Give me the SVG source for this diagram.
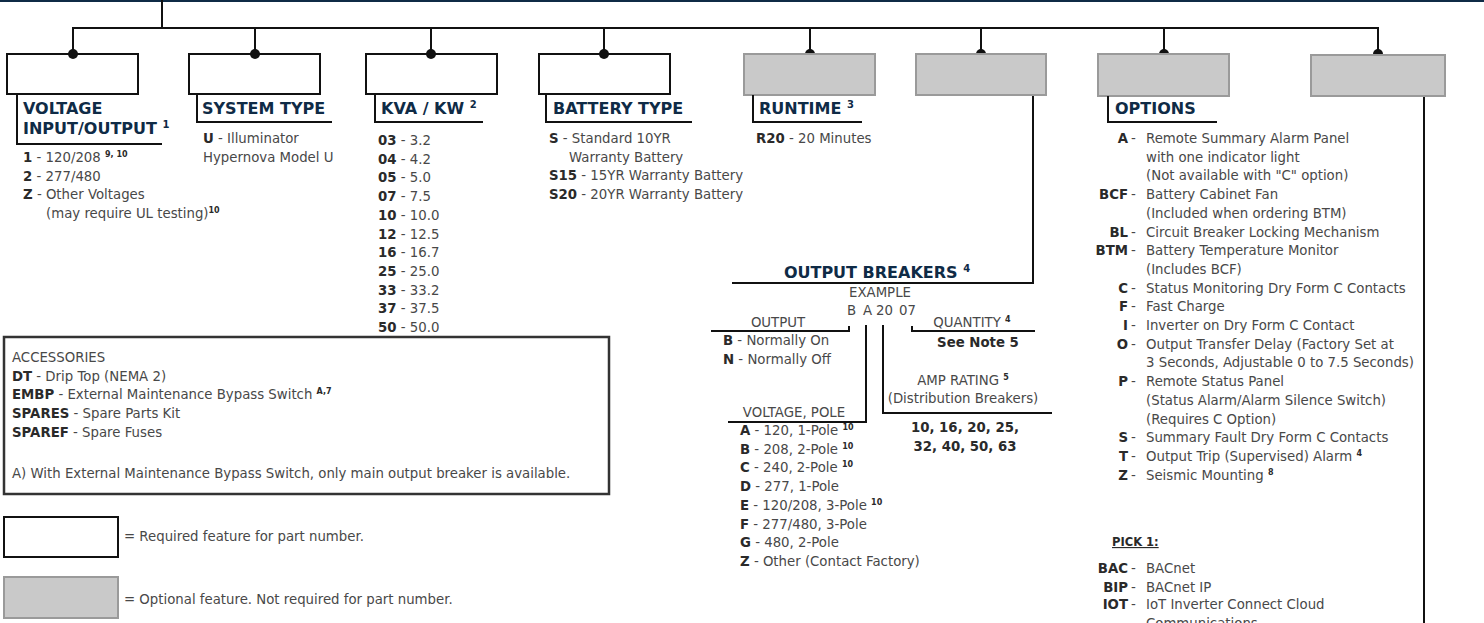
<svg xmlns="http://www.w3.org/2000/svg" width="1484" height="623" viewBox="0 0 1484 623">
<style>
.h{font-family:"DejaVu Sans",sans-serif;font-weight:bold;font-size:16px;fill:#0f2b46}
.t{font-family:"DejaVu Sans",sans-serif;font-size:13.3px;fill:#484848}
.b{font-weight:bold;fill:#2a2a2a}
.s{font-size:8px;font-weight:bold;fill:#2a2a2a}
.hs{font-size:10px}
.ln{stroke:#111;stroke-width:2;fill:none}
.wbox{fill:#fff;stroke:#111;stroke-width:2}
.gbox{fill:#c9c9c9;stroke:#9a9a9a;stroke-width:2}
.m{text-anchor:middle}
.e{text-anchor:end}
</style>
<rect x="0" y="0" width="1484" height="2" fill="#0f2b46"/>

<!-- required (white) nodes -->
<g id="node-voltage">
<rect class="wbox" x="7" y="54" width="131" height="40"/>
<path class="ln" d="M17,94 V144 H162"/>
<text class="h" x="23" y="114">VOLTAGE</text>
<text class="h" x="23" y="134">INPUT/OUTPUT <tspan class="hs" dy="-6">1</tspan></text>
<text class="t" x="23" y="162"><tspan class="b">1</tspan> - 120/208 <tspan class="s" dy="-5">9, 10</tspan></text>
<text class="t" x="23" y="180.7"><tspan class="b">2</tspan> - 277/480</text>
<text class="t" x="23" y="199.4"><tspan class="b">Z</tspan> - Other Voltages</text>
<text class="t" x="46" y="218.1">(may require UL testing)<tspan class="s" dy="-5">10</tspan></text>
</g>
<g id="node-system">
<rect class="wbox" x="189" y="54" width="131" height="40"/>
<path class="ln" d="M197,94 V122 H332"/>
<text class="h" x="202" y="114">SYSTEM TYPE</text>
<text class="t" x="203" y="143"><tspan class="b">U</tspan> - Illuminator</text>
<text class="t" x="203" y="161.7">Hypernova Model U</text>
</g>
<g id="node-kva">
<rect class="wbox" x="366" y="54" width="131" height="40"/>
<path class="ln" d="M375,94 V122 H483"/>
<text class="h" x="381" y="114">KVA / KW <tspan class="hs" dy="-6">2</tspan></text>
<text class="t" x="378" y="145"><tspan class="b">03</tspan> - 3.2</text>
<text class="t" x="378" y="163.7"><tspan class="b">04</tspan> - 4.2</text>
<text class="t" x="378" y="182.4"><tspan class="b">05</tspan> - 5.0</text>
<text class="t" x="378" y="201.1"><tspan class="b">07</tspan> - 7.5</text>
<text class="t" x="378" y="219.8"><tspan class="b">10</tspan> - 10.0</text>
<text class="t" x="378" y="238.5"><tspan class="b">12</tspan> - 12.5</text>
<text class="t" x="378" y="257.2"><tspan class="b">16</tspan> - 16.7</text>
<text class="t" x="378" y="275.9"><tspan class="b">25</tspan> - 25.0</text>
<text class="t" x="378" y="294.6"><tspan class="b">33</tspan> - 33.2</text>
<text class="t" x="378" y="313.3"><tspan class="b">37</tspan> - 37.5</text>
<text class="t" x="378" y="332"><tspan class="b">50</tspan> - 50.0</text>
</g>
<g id="node-battery">
<rect class="wbox" x="539" y="54" width="131" height="40"/>
<path class="ln" d="M546,94 V122 H692"/>
<text class="h" x="553" y="114">BATTERY TYPE</text>
<text class="t" x="549" y="143"><tspan class="b">S</tspan> - Standard 10YR</text>
<text class="t" x="569" y="161.7">Warranty Battery</text>
<text class="t" x="549" y="180.4"><tspan class="b">S15</tspan> - 15YR Warranty Battery</text>
<text class="t" x="549" y="199.1"><tspan class="b">S20</tspan> - 20YR Warranty Battery</text>
</g>

<!-- connectors -->
<g id="connectors">
<path class="ln" d="M162,0 V28"/>
<path class="ln" d="M73,54 V28 H1378 V54"/>
<path class="ln" d="M255,28 V54 M431,28 V54 M604,28 V54 M810,28 V54 M981,28 V54 M1164,28 V54"/>
<g fill="#111">
<circle cx="73" cy="54" r="5"/><circle cx="255" cy="54" r="5"/><circle cx="431" cy="54" r="5"/><circle cx="604" cy="54" r="5"/>
<circle cx="810" cy="54" r="5"/><circle cx="981" cy="54" r="5"/><circle cx="1164" cy="54" r="5"/><circle cx="1378" cy="54" r="5"/>
</g>
<path class="ln" d="M1033,96 V283 H732"/>
<path class="ln" d="M1424,96 V623"/>
<path class="ln" d="M711,331 H849 V326"/>
<path class="ln" d="M866,325 V422 H728"/>
<path class="ln" d="M883,325 V413 H1052"/>
<path class="ln" d="M912,326 V331 H1035"/>
</g>

<!-- optional (gray) nodes -->
<g id="node-runtime">
<rect class="gbox" x="744" y="54" width="131" height="41"/>
<path class="ln" d="M753,95 V122 H862"/>
<text class="h" x="759" y="114">RUNTIME <tspan class="hs" dy="-6">3</tspan></text>
<text class="t" x="756" y="143"><tspan class="b">R20</tspan> - 20 Minutes</text>
</g>
<g id="node-output-breakers">
<rect class="gbox" x="916" y="54" width="130" height="41"/>
<text class="h m" x="877" y="278">OUTPUT BREAKERS <tspan class="hs" dy="-6">4</tspan></text>
<text class="t m" x="880" y="297">EXAMPLE</text>
<text class="t" x="847" y="315">B</text>
<text class="t" x="863" y="315">A</text>
<text class="t" x="876" y="315">20</text>
<text class="t" x="899" y="315">07</text>
<text class="t m" x="778" y="327">OUTPUT</text>
<text class="t" x="723" y="345"><tspan class="b">B</tspan> - Normally On</text>
<text class="t" x="723" y="363.7"><tspan class="b">N</tspan> - Normally Off</text>
<text class="t m" x="972" y="327">QUANTITY <tspan class="s" dy="-5">4</tspan></text>
<text class="t m b" x="978" y="347">See Note 5</text>
<text class="t m" x="963" y="385">AMP RATING <tspan class="s" dy="-5">5</tspan></text>
<text class="t m" x="963" y="403">(Distribution Breakers)</text>
<text class="t m b" x="965" y="432">10, 16, 20, 25,</text>
<text class="t m b" x="965" y="450.5">32, 40, 50, 63</text>
<text class="t m" x="794" y="417">VOLTAGE, POLE</text>
<text class="t" x="740" y="435"><tspan class="b">A</tspan> - 120, 1-Pole <tspan class="s" dy="-5">10</tspan></text>
<text class="t" x="740" y="453.7"><tspan class="b">B</tspan> - 208, 2-Pole <tspan class="s" dy="-5">10</tspan></text>
<text class="t" x="740" y="472.4"><tspan class="b">C</tspan> - 240, 2-Pole <tspan class="s" dy="-5">10</tspan></text>
<text class="t" x="740" y="491.1"><tspan class="b">D</tspan> - 277, 1-Pole</text>
<text class="t" x="740" y="509.8"><tspan class="b">E</tspan> - 120/208, 3-Pole <tspan class="s" dy="-5">10</tspan></text>
<text class="t" x="740" y="528.5"><tspan class="b">F</tspan> - 277/480, 3-Pole</text>
<text class="t" x="740" y="547.2"><tspan class="b">G</tspan> - 480, 2-Pole</text>
<text class="t" x="740" y="565.9"><tspan class="b">Z</tspan> - Other (Contact Factory)</text>
</g>
<g id="node-options">
<rect class="gbox" x="1098" y="54" width="131" height="42"/>
<path class="ln" d="M1108,96 V122 H1217"/>
<text class="h" x="1115" y="114">OPTIONS</text>
<g class="t">
<text class="t b e" x="1128" y="143">A</text><text class="t" x="1131" y="143">-</text><text class="t" x="1146" y="143">Remote Summary Alarm Panel</text>
<text class="t" x="1146" y="161.7">with one indicator light</text>
<text class="t" x="1146" y="180.4">(Not available with "C" option)</text>
<text class="t b e" x="1128" y="199.1">BCF</text><text class="t" x="1131" y="199.1">-</text><text class="t" x="1146" y="199.1">Battery Cabinet Fan</text>
<text class="t" x="1146" y="217.8">(Included when ordering BTM)</text>
<text class="t b e" x="1128" y="236.5">BL</text><text class="t" x="1131" y="236.5">-</text><text class="t" x="1146" y="236.5">Circuit Breaker Locking Mechanism</text>
<text class="t b e" x="1128" y="255.2">BTM</text><text class="t" x="1131" y="255.2">-</text><text class="t" x="1146" y="255.2">Battery Temperature Monitor</text>
<text class="t" x="1146" y="273.9">(Includes BCF)</text>
<text class="t b e" x="1128" y="292.6">C</text><text class="t" x="1131" y="292.6">-</text><text class="t" x="1146" y="292.6">Status Monitoring Dry Form C Contacts</text>
<text class="t b e" x="1128" y="311.3">F</text><text class="t" x="1131" y="311.3">-</text><text class="t" x="1146" y="311.3">Fast Charge</text>
<text class="t b e" x="1128" y="330">I</text><text class="t" x="1131" y="330">-</text><text class="t" x="1146" y="330">Inverter on Dry Form C Contact</text>
<text class="t b e" x="1128" y="348.7">O</text><text class="t" x="1131" y="348.7">-</text><text class="t" x="1146" y="348.7">Output Transfer Delay (Factory Set at</text>
<text class="t" x="1146" y="367.4">3 Seconds, Adjustable 0 to 7.5 Seconds)</text>
<text class="t b e" x="1128" y="386.1">P</text><text class="t" x="1131" y="386.1">-</text><text class="t" x="1146" y="386.1">Remote Status Panel</text>
<text class="t" x="1146" y="404.8">(Status Alarm/Alarm Silence Switch)</text>
<text class="t" x="1146" y="423.5">(Requires C Option)</text>
<text class="t b e" x="1128" y="442.2">S</text><text class="t" x="1131" y="442.2">-</text><text class="t" x="1146" y="442.2">Summary Fault Dry Form C Contacts</text>
<text class="t b e" x="1128" y="460.9">T</text><text class="t" x="1131" y="460.9">-</text><text class="t" x="1146" y="460.9">Output Trip (Supervised) Alarm <tspan class="s" dy="-5">4</tspan></text>
<text class="t b e" x="1128" y="479.6">Z</text><text class="t" x="1131" y="479.6">-</text><text class="t" x="1146" y="479.6">Seismic Mounting <tspan class="s" dy="-5">8</tspan></text>
<text class="t b" x="1112" y="546" style="font-size:11.5px;text-decoration:underline">PICK 1:</text>
<text class="t b e" x="1128" y="573">BAC</text><text class="t" x="1131" y="573">-</text><text class="t" x="1146" y="573">BACnet</text>
<text class="t b e" x="1128" y="591.7">BIP</text><text class="t" x="1131" y="591.7">-</text><text class="t" x="1146" y="591.7">BACnet IP</text>
<text class="t b e" x="1128" y="609.4">IOT</text><text class="t" x="1131" y="609.4">-</text><text class="t" x="1146" y="609.4">IoT Inverter Connect Cloud</text>
<text class="t" x="1146" y="628.1">Communications</text>
</g>
</g>
<g id="node-extra">
<rect class="gbox" x="1311" y="55" width="134" height="41"/>
</g>

<!-- accessories & legend -->
<g id="accessories">
<rect x="4" y="337" width="605" height="157" fill="none" stroke="#333" stroke-width="2.5"/>
<text class="t" x="12" y="362">ACCESSORIES</text>
<text class="t" x="12" y="380.7"><tspan class="b">DT</tspan> - Drip Top (NEMA 2)</text>
<text class="t" x="12" y="399.4"><tspan class="b">EMBP</tspan> - External Maintenance Bypass Switch <tspan class="s" dy="-5">A,7</tspan></text>
<text class="t" x="12" y="418.1"><tspan class="b">SPARES</tspan> - Spare Parts Kit</text>
<text class="t" x="12" y="436.8"><tspan class="b">SPAREF</tspan> - Spare Fuses</text>
<text class="t" x="12" y="478">A) With External Maintenance Bypass Switch, only main output breaker is available.</text>
</g>
<g id="legend-required">
<rect class="wbox" x="4" y="517" width="114" height="40"/>
<text class="t" x="124" y="541">= Required feature for part number.</text>
</g>
<g id="legend-optional">
<rect class="gbox" x="4" y="577" width="114" height="41"/>
<text class="t" x="124" y="604">= Optional feature. Not required for part number.</text>
</g>
</svg>
